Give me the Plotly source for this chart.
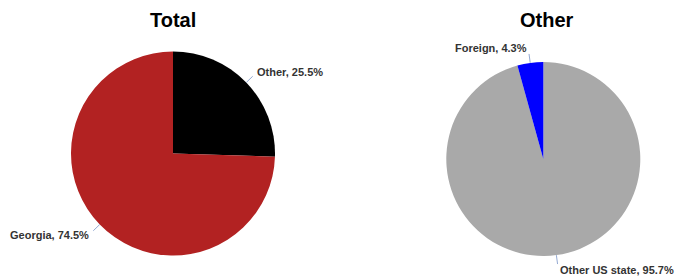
import math
import plotly.graph_objects as go

W, H = 681, 278

total_labels = ["Other", "Georgia"]
total_values = [25.5, 74.5]
total_colors = ["#000000", "#B22222"]

other_labels = ["Other US state", "Foreign"]
other_values = [95.7, 4.3]
other_colors = ["#A9A9A9", "#0000FF"]

titles = ["Total", "Other"]

# pie geometry in pixels: center x, center y (from top), radius
pies = [
    dict(labels=total_labels, values=total_values, colors=total_colors, cx=173.0, cy=153.5, r=102.0),
    dict(labels=other_labels, values=other_values, colors=other_colors, cx=543.3, cy=159.0, r=97.0),
]

fig = go.Figure()
annotations = []
shapes = []

for i, p in enumerate(pies):
    cx, cy, r = p["cx"], p["cy"], p["r"]
    x0, x1 = (cx - r) / W, (cx + r) / W
    y0, y1 = 1 - (cy + r) / H, 1 - (cy - r) / H
    fig.add_trace(go.Pie(
        labels=p["labels"], values=p["values"],
        marker=dict(colors=p["colors"], line=dict(width=0)),
        sort=False, direction="clockwise", rotation=0,
        textinfo="none", hoverinfo="label+percent",
        domain=dict(x=[x0, x1], y=[y0, y1]),
        showlegend=False,
    ))
    total = sum(p["values"])
    cum = 0.0
    for lab, v in zip(p["labels"], p["values"]):
        mid = (cum + v / 2) / total * 2 * math.pi
        cum += v
        s, c = math.sin(mid), math.cos(mid)
        ex, ey = cx + r * s, cy - r * c
        lx, ly = cx + (r + 9) * s, cy - (r + 9) * c
        tx, ty = cx + (r + 12) * s, cy - (r + 15) * c
        shapes.append(dict(type="line", xref="paper", yref="paper",
                           x0=ex / W, y0=1 - ey / H, x1=lx / W, y1=1 - ly / H,
                           line=dict(color="#93A9D2", width=1)))
        annotations.append(dict(
            x=tx / W, y=1 - ty / H, xref="paper", yref="paper",
            text=f"{lab}, {v:.1f}%", showarrow=False,
            xanchor="left" if s >= 0 else "right", yanchor="middle",
            font=dict(family="Liberation Sans, Arial, sans-serif", size=11, color="#333333", weight="bold"),
        ))
    annotations.append(dict(
        x=(cx + (4 if i == 1 else 0)) / W, y=1 - 20 / H, xref="paper", yref="paper",
        text=titles[i], showarrow=False, xanchor="center", yanchor="middle",
        font=dict(family="Liberation Sans, Arial, sans-serif", size=20, color="#000000", weight="bold"),
    ))

fig.update_layout(
    width=W, height=H,
    margin=dict(l=0, r=0, t=0, b=0),
    paper_bgcolor="white", plot_bgcolor="white",
    annotations=annotations, shapes=shapes,
)

fig.write_html("out.html", config={"displayModeBar": False},
               post_script="document.body.style.margin='0';document.body.style.overflow='hidden';")
